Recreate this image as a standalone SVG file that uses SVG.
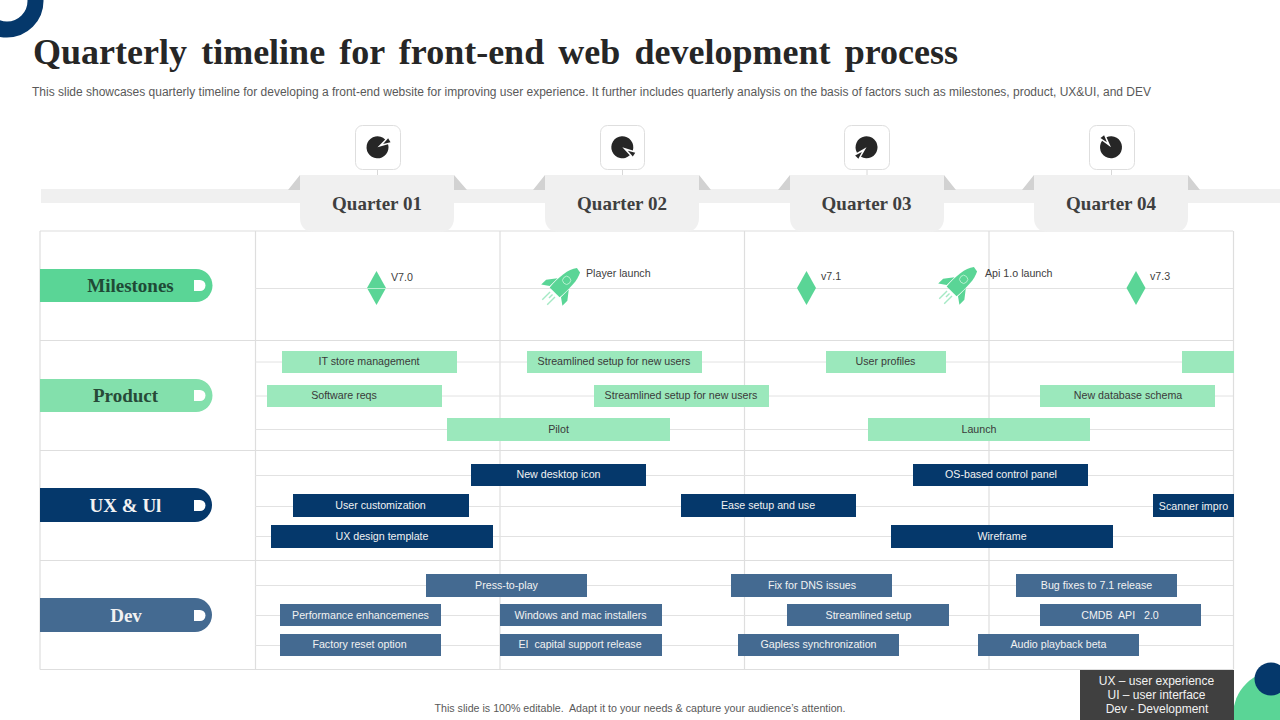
<svg xmlns="http://www.w3.org/2000/svg" width="1280" height="720" viewBox="0 0 1280 720">
<style>
text{font-family:"Liberation Sans",Arial,sans-serif}
.serif{font-family:"Liberation Serif","Times New Roman",serif;font-weight:bold}
.grid{stroke:#dedede;stroke-width:1.2;fill:none}
.sub{stroke:#e2e2e2;stroke-width:1;fill:none}
.q{font-size:19px;fill:#3f3f3f;text-anchor:middle}
.cat{font-size:19px;text-anchor:middle}
.bt{font-size:10.67px;text-anchor:middle}
.ms{font-size:10.67px;fill:#404040}
.p{fill:#9be8bc}.pt{fill:#3a3a3a}
.u{fill:#05386b}.d{fill:#446a91}.lt{fill:#f2f2f2}
.tab{fill:#f0f0f0}.ear{fill:#d2d2d2}
.box{fill:#fff;stroke:#dedede;stroke-width:1}
.gr{fill:#5ad596}
</style>
<defs>
<g id="rocket">
<path class="gr" d="M-1.500,-24 L4,-23 C8,-15 8,-5 7,9 L-7,9 C-8,-5 -7,-17 -1.500,-24Z"/>
<path class="gr" d="M-8,-3 L-15,6 L-15,13 L-8,8Z M8,-3 L15,6 L15,13 L8,8Z"/>
<circle cx="0" cy="-8" r="4" fill="none" stroke="#b8f0d0" stroke-width="0.9"/>
<path d="M-3.500,12 V23 M0,12 V17 M3.500,12 V23" stroke="#a5e9c5" stroke-width="1.4" fill="none"/>
</g>
<path id="dia" class="gr" d="M0,-17 L9.5,0 L0,17 L-9.5,0Z"/>
<path id="dot" fill="#fff" d="M0,0 H6 A5.5,5.5 0 0 1 6,11 H0Z"/>
<g id="pie" fill="#262626">
<path d="M0,0 L10.63,2.85 A11,11 0 1 1 10.63,-2.85Z"/>
<path d="M6.500,0 L13.800,-2.300 L13.800,2.300Z"/>
</g>
</defs>
<circle id="ring" cx="7" cy="1" r="28.5" fill="none" stroke="#05386b" stroke-width="16"/>
<circle cx="1277" cy="715" r="44" fill="#5ad596"/>
<circle cx="1271" cy="679" r="16.500" fill="#05386b"/>
<text id="title" class="serif" x="33" y="64" font-size="36px" fill="#262626" word-spacing="5.2px">Quarterly timeline for front-end web development process</text>
<text id="subtitle" x="32" y="96" font-size="12px" fill="#595959" textLength="1119">This slide showcases quarterly timeline for developing a front-end website for improving user experience. It further includes quarterly analysis on the basis of factors such as milestones, product, UX&amp;UI, and DEV</text>

<g id="connectors">
<path class="grid" d="M40,231 H1233 M40,340.500 H1233 M40,450.500 H1233 M40,560.500 H1233 M40,669.500 H1233 M40,231 V669.500 M255.500,231 V669.500 M500,231 V669.500 M744.500,231 V669.500 M989,231 V669.500 M1233.500,231 V669.500"/>
<path class="sub" d="M255,288.500 H1233 M255,362 H1233 M255,396 H1233 M255,429.500 H1233 M255,475.500 H1233 M255,506.500 H1233 M255,536.500 H1233 M255,585.500 H1233 M255,615.500 H1233 M255,645.500 H1233"/>
<rect x="41" y="189" width="1239" height="14" fill="#f0f0f0"/>
<path d="M377.500,170 V176 M622.500,170 V176 M867,170 V176 M1111.500,170 V176" stroke="#d8d8d8" fill="none"/>
</g>

<g id="q1"><path class="ear" d="M300,175 L288,190 H300Z M454,175 L467,190 H454Z"/><path class="tab" d="M300,175 H454 V217 Q454,232 439,232 H315 Q300,232 300,217Z"/><text class="serif q" x="377" y="210">Quarter 01</text>
<rect class="box" x="355.500" y="125.500" width="45" height="44" rx="7"/>
<use href="#pie" transform="translate(377.500,147.300) rotate(-31)"/></g>
<g id="q2"><path class="ear" d="M545,175 L533,190 H545Z M699,175 L711,190 H699Z"/><path class="tab" d="M545,175 H699 V217 Q699,232 684,232 H560 Q545,232 545,217Z"/><text class="serif q" x="622" y="210">Quarter 02</text>
<rect class="box" x="600.500" y="125.500" width="44" height="44" rx="7"/>
<use href="#pie" transform="translate(622.300,147.300) rotate(32)"/></g>
<g id="q3"><path class="ear" d="M790,175 L778,190 H790Z M944,175 L956,190 H944Z"/><path class="tab" d="M790,175 H944 V217 Q944,232 929,232 H805 Q790,232 790,217Z"/><text class="serif q" x="866.500" y="210">Quarter 03</text>
<rect class="box" x="844.500" y="125.500" width="45" height="44" rx="7"/>
<use href="#pie" transform="translate(866.500,147.300) rotate(135)"/></g>
<g id="q4"><path class="ear" d="M1034,175 L1022,190 H1034Z M1188,175 L1200,190 H1188Z"/><path class="tab" d="M1034,175 H1188 V217 Q1188,232 1173,232 H1049 Q1034,232 1034,217Z"/><text class="serif q" x="1111" y="210">Quarter 04</text>
<rect class="box" x="1089.500" y="125.500" width="45" height="44" rx="7"/>
<use href="#pie" transform="translate(1111,147.300) rotate(231)"/></g>

<g id="milestones"><path fill="#5ad596" d="M40,269 H196 A16.500,16.500 0 0 1 196,302 H40Z"/><use href="#dot" x="194" y="280"/><text class="serif cat" x="130.500" y="292" fill="#1f4a36">Milestones</text></g>
<g id="product"><path fill="#83e0ac" d="M40,379 H196 A16.500,16.500 0 0 1 196,412 H40Z"/><use href="#dot" x="194" y="390"/><text class="serif cat" x="125.500" y="402" fill="#274a38">Product</text></g>
<g id="uxui"><path fill="#05386b" d="M40,488 H195 A17,17 0 0 1 195,522 H40Z"/><use href="#dot" x="194" y="500"/><text class="serif cat" x="125.500" y="512" fill="#f2f2f2">UX &amp; Ul</text></g>
<g id="dev"><path fill="#446a91" d="M40,598 H195 A17,17 0 0 1 195,632 H40Z"/><use href="#dot" x="194" y="610"/><text class="serif cat" x="126" y="622" fill="#f2f2f2">Dev</text></g>

<g id="ms-v70"><use href="#dia" x="376.500" y="288"/><path d="M367,288.500 H386" stroke="#b8f0d0"/><text class="ms" x="391" y="281">V7.0</text></g>
<g id="ms-player"><use href="#rocket" transform="translate(561,286) rotate(45)"/><text class="ms" x="586" y="277">Player launch</text></g>
<g id="ms-v71"><use href="#dia" x="806.500" y="288"/><text class="ms" x="821" y="280">v7.1</text></g>
<g id="ms-api"><use href="#rocket" transform="translate(958,285) rotate(45)"/><text class="ms" x="985" y="277">Api 1.o launch</text></g>
<g id="ms-v73"><use href="#dia" x="1136" y="288"/><text class="ms" x="1150" y="280">v7.3</text></g>

<g id="product-bars">
<g id="p1"><rect class="p" x="282" y="351" width="175" height="22"/><text class="bt pt" x="369" y="365">IT store management</text></g>
<g id="p2"><rect class="p" x="527" y="351" width="175" height="22"/><text class="bt pt" x="614" y="365">Streamlined setup for new users</text></g>
<g id="p3"><rect class="p" x="826" y="351" width="120" height="22"/><text class="bt pt" x="885.500" y="365">User profiles</text></g>
<rect id="p4" class="p" x="1182" y="351" width="52" height="22"/>
<g id="p5"><rect class="p" x="267" y="385" width="175" height="22"/><text class="bt pt" x="344" y="399">Software reqs</text></g>
<g id="p6"><rect class="p" x="594" y="385" width="175" height="22"/><text class="bt pt" x="681" y="399">Streamlined setup for new users</text></g>
<g id="p7"><rect class="p" x="1040" y="385" width="175" height="22"/><text class="bt pt" x="1128" y="399">New database schema</text></g>
<g id="p8"><rect class="p" x="447" y="418" width="223" height="23"/><text class="bt pt" x="558.500" y="433">Pilot</text></g>
<g id="p9"><rect class="p" x="868" y="418" width="222" height="23"/><text class="bt pt" x="979" y="433">Launch</text></g>
</g>
<g id="ux-bars">
<g id="u1"><rect class="u" x="471" y="464" width="175" height="22"/><text class="bt lt" x="558.500" y="478">New desktop icon</text></g>
<g id="u2"><rect class="u" x="913" y="464" width="175" height="22"/><text class="bt lt" x="1001" y="478">OS-based control panel</text></g>
<g id="u3"><rect class="u" x="293" y="494" width="176" height="23"/><text class="bt lt" x="380.500" y="509">User customization</text></g>
<g id="u4"><rect class="u" x="681" y="494" width="175" height="23"/><text class="bt lt" x="768" y="509">Ease setup and use</text></g>
<g id="u5"><rect class="u" x="1153" y="494" width="81" height="23"/><text class="bt lt" x="1193.500" y="510">Scanner impro</text></g>
<g id="u6"><rect class="u" x="271" y="525" width="222" height="23"/><text class="bt lt" x="382" y="540">UX design template</text></g>
<g id="u7"><rect class="u" x="891" y="525" width="222" height="23"/><text class="bt lt" x="1002" y="540">Wireframe</text></g>
</g>
<g id="dev-bars">
<g id="d1"><rect class="d" x="426" y="574" width="161" height="23"/><text class="bt lt" x="506.500" y="589">Press-to-play</text></g>
<g id="d2"><rect class="d" x="731" y="574" width="161" height="23"/><text class="bt lt" x="812" y="589">Fix for DNS issues</text></g>
<g id="d3"><rect class="d" x="1016" y="574" width="161" height="23"/><text class="bt lt" x="1096.500" y="589">Bug fixes to 7.1 release</text></g>
<g id="d4"><rect class="d" x="280" y="604" width="161" height="22"/><text class="bt lt" x="360.500" y="619">Performance enhancemenes</text></g>
<g id="d5"><rect class="d" x="500" y="604" width="162" height="22"/><text class="bt lt" x="580.500" y="619">Windows and mac installers</text></g>
<g id="d6"><rect class="d" x="787" y="604" width="162" height="22"/><text class="bt lt" x="868.500" y="619">Streamlined setup</text></g>
<g id="d7"><rect class="d" x="1040" y="604" width="161" height="22"/><text class="bt lt" x="1120" y="619" xml:space="preserve">CMDB  API   2.0</text></g>
<g id="d8"><rect class="d" x="280" y="634" width="161" height="22"/><text class="bt lt" x="359.500" y="648">Factory reset option</text></g>
<g id="d9"><rect class="d" x="500" y="634" width="162" height="22"/><text class="bt lt" x="580" y="648" xml:space="preserve">EI  capital support release</text></g>
<g id="d10"><rect class="d" x="738" y="634" width="161" height="22"/><text class="bt lt" x="818.500" y="648">Gapless synchronization</text></g>
<g id="d11"><rect class="d" x="978" y="634" width="161" height="22"/><text class="bt lt" x="1058.500" y="648">Audio playback beta</text></g>
</g>

<g id="legend"><rect x="1080" y="670" width="154" height="50" fill="#404040"/>
<g font-size="12px" fill="#f2f2f2" text-anchor="middle"><text x="1156.500" y="685">UX – user experience</text><text x="1156.500" y="699">UI – user interface</text><text x="1157" y="713">Dev - Development</text></g></g>
<text id="footer" x="640" y="711.500" font-size="10.67px" fill="#595959" text-anchor="middle" xml:space="preserve">This slide is 100% editable.  Adapt it to your needs &amp; capture your audience’s attention.</text>
</svg>
